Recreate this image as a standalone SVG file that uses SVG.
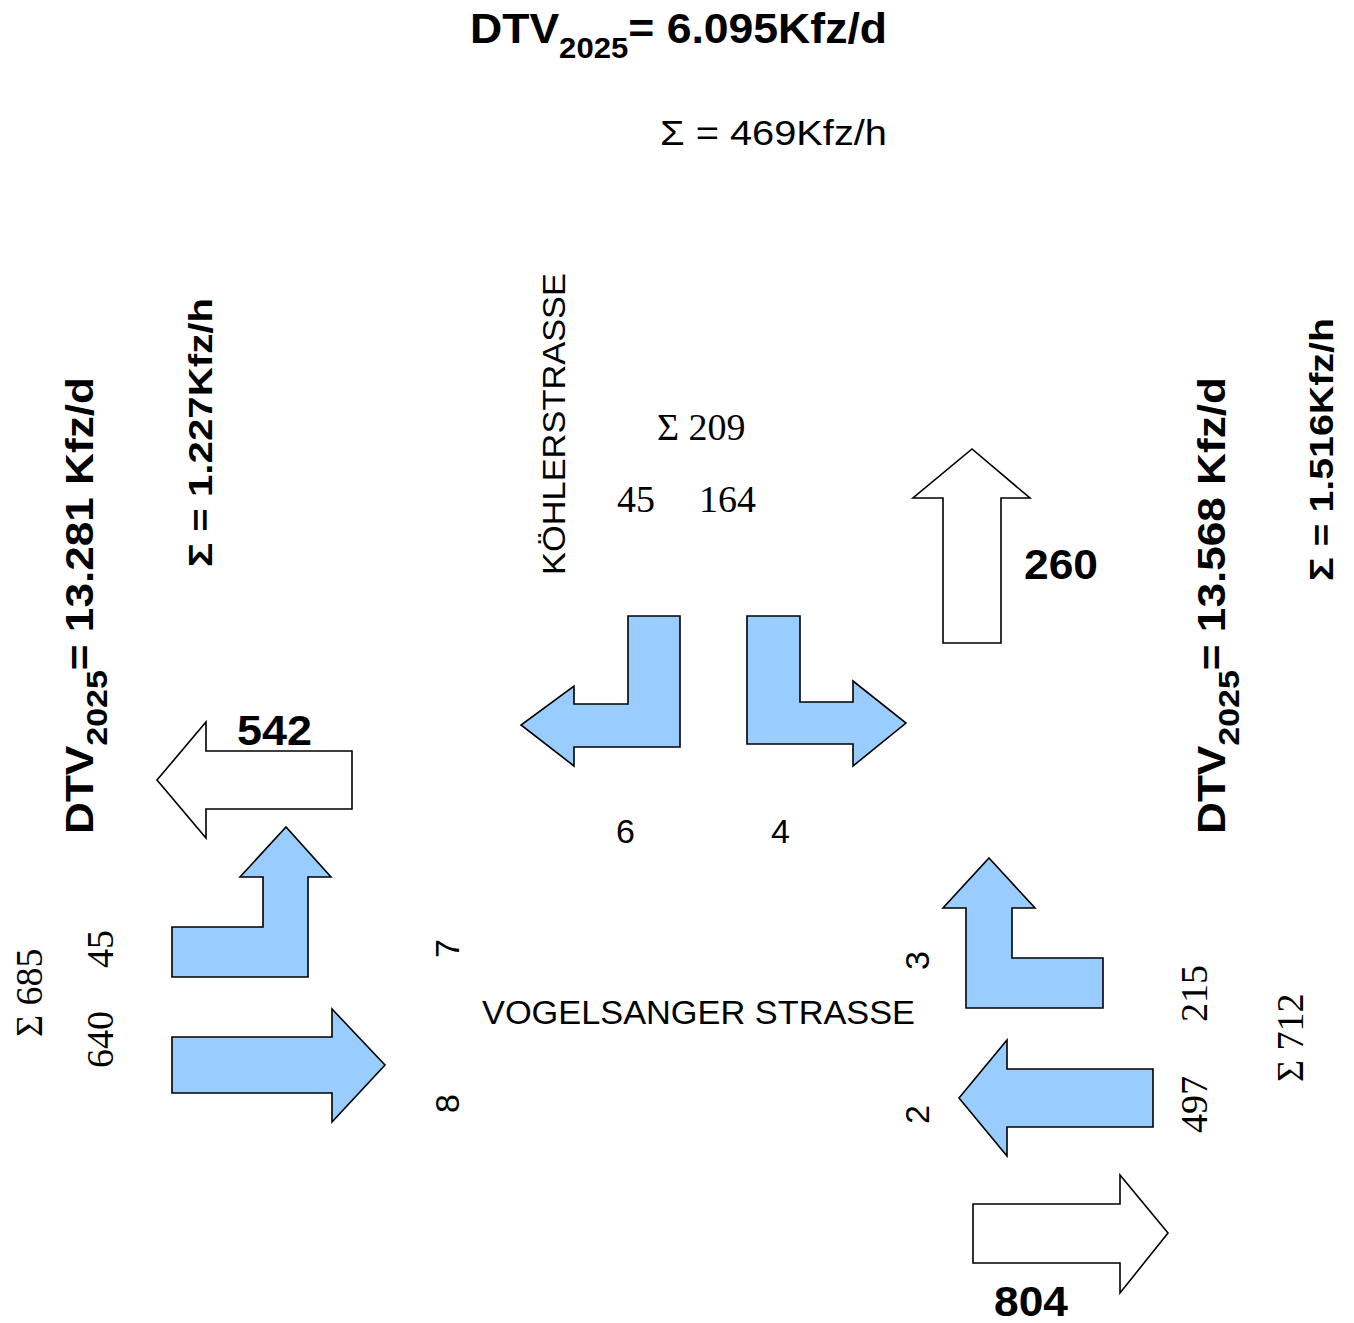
<svg xmlns="http://www.w3.org/2000/svg" width="1354" height="1323" viewBox="0 0 1354 1323">
<style>
.sb{font-family:"Liberation Sans",Arial,sans-serif;font-weight:bold;fill:#000}
.sr{font-family:"Liberation Sans",Arial,sans-serif;fill:#000}
.se{font-family:"Liberation Serif","Times New Roman",serif;fill:#000;font-size:38px}
.blue{fill:#99CCFF;stroke:#000;stroke-width:1.6;stroke-linejoin:miter}
.white{fill:#FFFFFF;stroke:#000;stroke-width:1.6;stroke-linejoin:miter}
</style>
<rect width="1354" height="1323" fill="#fff"/>
<g id="labels">
<text class="sb" x="470" y="43" font-size="43" textLength="417" lengthAdjust="spacingAndGlyphs">DTV<tspan font-size="30" dy="15">2025</tspan><tspan dy="-15">= 6.095Kfz/d</tspan></text>
<text class="sr" x="660" y="145" font-size="35" textLength="227" lengthAdjust="spacingAndGlyphs">Σ = 469Kfz/h</text>
<text class="sb" transform="translate(93,834) rotate(-90)" font-size="39" textLength="457" lengthAdjust="spacingAndGlyphs">DTV<tspan font-size="30" dy="14">2025</tspan><tspan dy="-14">= 13.281 Kfz/d</tspan></text>
<text class="sb" transform="translate(212,567) rotate(-90)" font-size="33" textLength="269" lengthAdjust="spacingAndGlyphs">Σ = 1.227Kfz/h</text>
<text class="sb" transform="translate(1225,834) rotate(-90)" font-size="39" textLength="457" lengthAdjust="spacingAndGlyphs">DTV<tspan font-size="30" dy="14">2025</tspan><tspan dy="-14">= 13.568 Kfz/d</tspan></text>
<text class="sb" transform="translate(1333,581) rotate(-90)" font-size="33" textLength="263" lengthAdjust="spacingAndGlyphs">Σ = 1.516Kfz/h</text>
<text class="sr" transform="translate(565,575) rotate(-90)" font-size="32" textLength="302" lengthAdjust="spacingAndGlyphs">KÖHLERSTRASSE</text>
<text class="sr" x="482" y="1024" font-size="34" textLength="433" lengthAdjust="spacingAndGlyphs">VOGELSANGER STRASSE</text>
<text class="se" x="657" y="440">Σ 209</text>
<text class="se" x="617" y="512">45</text>
<text class="se" x="699" y="512">164</text>
<text class="sr" x="616" y="843" font-size="34">6</text>
<text class="sr" x="771" y="843" font-size="34">4</text>
<text class="sr" transform="translate(459,958) rotate(-90)" font-size="34">7</text>
<text class="sr" transform="translate(459,1113) rotate(-90)" font-size="34">8</text>
<text class="sr" transform="translate(929,970) rotate(-90)" font-size="34">3</text>
<text class="sr" transform="translate(929,1124) rotate(-90)" font-size="34">2</text>
<text class="se" transform="translate(42,1037) rotate(-90)">Σ 685</text>
<text class="se" transform="translate(113,968) rotate(-90)">45</text>
<text class="se" transform="translate(113,1068) rotate(-90)">640</text>
<text class="se" transform="translate(1207,1022) rotate(-90)">215</text>
<text class="se" transform="translate(1207,1133) rotate(-90)">497</text>
<text class="se" transform="translate(1303,1082) rotate(-90)">Σ 712</text>
<text class="sb" x="237" y="745" font-size="43" textLength="75" lengthAdjust="spacingAndGlyphs">542</text>
<text class="sb" x="1024" y="579" font-size="43" textLength="74" lengthAdjust="spacingAndGlyphs">260</text>
<text class="sb" x="994" y="1316" font-size="42" textLength="74" lengthAdjust="spacingAndGlyphs">804</text>
</g>
<g id="connectors">
<polygon id="out-west" class="white" points="352,751 206,751 206,722 157,780 206,838 206,809 352,809"/>
<polygon id="out-north" class="white" points="943,643 943,498 913,498 972,449 1030,498 1001,498 1001,643"/>
<polygon id="out-east" class="white" points="973,1204 1120,1204 1120,1175 1168,1233 1120,1293 1120,1263 973,1263"/>
<polygon id="west-left" class="blue" points="172,927 263,927 263,877 240,877 286,827 331,877 308,877 308,977 172,977"/>
<polygon id="west-straight" class="blue" points="172,1037 332,1037 332,1009 385,1065 332,1122 332,1093 172,1093"/>
<polygon id="north-right" class="blue" points="628,616 680,616 680,747 574,747 574,766 521,725 574,686 574,704 628,704"/>
<polygon id="north-left" class="blue" points="747,616 800,616 800,702 853,702 853,681 906,723 853,766 853,744 747,744"/>
<polygon id="east-right" class="blue" points="989,858 1035,908 1012,908 1012,958 1103,958 1103,1008 966,1008 966,908 943,908"/>
<polygon id="east-straight" class="blue" points="1153,1069 1007,1069 1007,1040 959,1098 1007,1156 1007,1127 1153,1127"/>
</g>
</svg>
